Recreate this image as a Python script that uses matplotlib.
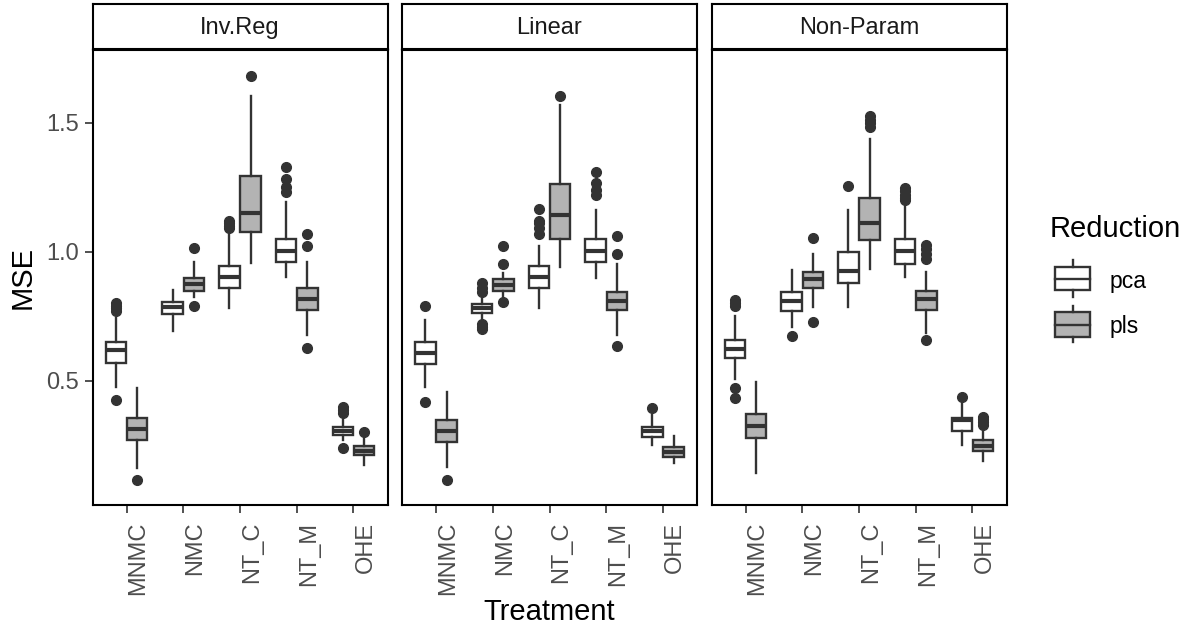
import matplotlib
matplotlib.use("Agg")
import matplotlib.pyplot as plt
import matplotlib.transforms as mtransforms
from matplotlib.patches import Rectangle

# ---------------- data ----------------
methods = ["Inv.Reg", "Linear", "Non-Param"]
treatments = ["MNMC", "NMC", "NT_C", "NT_M", "OHE"]
reductions = ["pca", "pls"]

# each list: [method][treatment]
pca_q1 = [[0.570, 0.757, 0.858, 0.961, 0.289],
          [0.563, 0.764, 0.858, 0.961, 0.283],
          [0.587, 0.771, 0.880, 0.952, 0.306]]
pca_med = [[0.617, 0.784, 0.902, 1.004, 0.306],
           [0.606, 0.781, 0.903, 1.004, 0.305],
           [0.622, 0.809, 0.926, 1.004, 0.348]]
pca_q3 = [[0.649, 0.804, 0.945, 1.050, 0.322],
          [0.649, 0.797, 0.945, 1.050, 0.322],
          [0.658, 0.843, 0.999, 1.050, 0.354]]
pca_lo = [[0.477, 0.694, 0.781, 0.903, 0.270],
          [0.477, 0.735, 0.781, 0.897, 0.251],
          [0.505, 0.709, 0.787, 0.903, 0.251]]
pca_hi = [[0.744, 0.852, 1.071, 1.194, 0.348],
          [0.735, 0.819, 1.023, 1.162, 0.367],
          [0.751, 0.929, 1.162, 1.178, 0.412]]
pca_out = [[[0.426, 0.77, 0.78, 0.79, 0.80], [], [1.09, 1.10, 1.11, 1.12],
            [1.23, 1.25, 1.28, 1.33], [0.238, 0.375, 0.385, 0.399]],
           [[0.419, 0.791], [0.70, 0.71, 0.72, 0.843, 0.86, 0.878],
            [1.07, 1.09, 1.11, 1.12, 1.164], [1.22, 1.24, 1.265, 1.31], [0.393]],
           [[0.432, 0.471, 0.79, 0.80, 0.813], [0.673], [1.255],
            [1.20, 1.21, 1.22, 1.235, 1.246], [0.438]]]

pls_q1 = [[0.270, 0.849, 1.075, 0.774, 0.212],
          [0.262, 0.849, 1.049, 0.774, 0.205],
          [0.277, 0.858, 1.045, 0.774, 0.229]]
pls_med = [[0.313, 0.876, 1.151, 0.818, 0.229],
           [0.305, 0.871, 1.142, 0.809, 0.225],
           [0.326, 0.894, 1.112, 0.816, 0.248]]
pls_q3 = [[0.354, 0.898, 1.293, 0.858, 0.247],
          [0.348, 0.893, 1.262, 0.843, 0.243],
          [0.370, 0.920, 1.207, 0.849, 0.270]]
pls_lo = [[0.160, 0.826, 0.957, 0.677, 0.173],
          [0.167, 0.826, 0.942, 0.677, 0.182],
          [0.141, 0.787, 0.933, 0.686, 0.190]]
pls_hi = [[0.471, 0.961, 1.603, 0.961, 0.277],
          [0.457, 0.916, 1.567, 0.952, 0.285],
          [0.496, 0.991, 1.436, 0.920, 0.322]]
pls_out = [[[0.115], [0.79, 1.014], [1.681], [0.626, 1.022, 1.069], [0.302]],
           [[0.115], [0.804, 0.952, 1.023], [1.603], [0.635, 0.99, 1.061], []],
           [[], [0.726, 1.053], [1.484, 1.50, 1.51, 1.526],
            [0.658, 0.97, 0.99, 1.01, 1.026], [0.33, 0.34, 0.35, 0.36]]]

yticks = [0.5, 1.0, 1.5]
fill_colors = {"pca": "#FFFFFF", "pls": "#B3B3B3"}

# ---------------- style ----------------
plt.rcParams["font.family"] = ["Liberation Sans", "DejaVu Sans"]
W, H = 1187, 634
fig = plt.figure(figsize=(W / 100, H / 100), dpi=100)
fig.patch.set_facecolor("white")

EDGE = "#333333"
TICKC = "#4D4D4D"

def fx(px):
    return px / W

def fy(py):
    return 1 - py / H

panel_left = [92.5, 402.0, 711.5]
panel_w = 295.0
panel_top, panel_bot = 50.0, 505.0
strip_top, strip_bot = 4.0, 48.5

stats_src = {
    "pca": (pca_q1, pca_med, pca_q3, pca_lo, pca_hi, pca_out),
    "pls": (pls_q1, pls_med, pls_q3, pls_lo, pls_hi, pls_out),
}
offsets = {"pca": -0.1875, "pls": 0.1875}

for m, mname in enumerate(methods):
    L = panel_left[m]
    ax = fig.add_axes([fx(L), fy(panel_bot), panel_w / W, (panel_bot - panel_top) / H])
    for red in reductions:
        q1, med, q3, lo, hi, out = stats_src[red]
        stats = []
        for t in range(len(treatments)):
            stats.append(dict(q1=q1[m][t], med=med[m][t], q3=q3[m][t],
                              whislo=lo[m][t], whishi=hi[m][t],
                              fliers=out[m][t]))
        pos = [t + 1 + offsets[red] for t in range(len(treatments))]
        ax.bxp(stats, positions=pos, widths=0.36, patch_artist=True,
               showcaps=False, manage_ticks=False,
               boxprops=dict(facecolor=fill_colors[red], edgecolor=EDGE, linewidth=1.7),
               medianprops=dict(color=EDGE, linewidth=3.0, solid_capstyle="butt"),
               whiskerprops=dict(color=EDGE, linewidth=1.7),
               flierprops=dict(marker="o", markerfacecolor=EDGE, markeredgecolor=EDGE,
                               markersize=7, linestyle="none"))
    ax.set_xlim(0.4, 5.6)
    ax.set_ylim(0.018, 1.782)
    ax.set_xticks(range(1, len(treatments) + 1))
    ax.set_xticklabels(treatments, rotation=90, fontsize=17, color=TICKC)
    ax.tick_params(axis="x", length=6, width=1.2, color=EDGE, pad=6)
    offset = mtransforms.ScaledTranslation(12 / 100, 0, fig.dpi_scale_trans)
    for lab in ax.get_xticklabels():
        lab.set_transform(lab.get_transform() + offset)
    if m == 0:
        ax.set_yticks(yticks)
        ax.set_yticklabels([f"{v:.1f}" for v in yticks], fontsize=17, color=TICKC)
        ax.tick_params(axis="y", length=6, width=1.2, color=EDGE, pad=4)
    else:
        ax.set_yticks([])
    for s in ax.spines.values():
        s.set_color("black")
        s.set_linewidth(1.5)
    ax.set_facecolor("white")

    # strip
    sax = fig.add_axes([fx(L), fy(strip_bot), panel_w / W, (strip_bot - strip_top) / H])
    sax.set_xticks([])
    sax.set_yticks([])
    sax.set_facecolor("white")
    for s in sax.spines.values():
        s.set_color("black")
        s.set_linewidth(1.5)
    sax.text(0.5, 0.47, mname, ha="center", va="center", fontsize=17,
             color="#1A1A1A", transform=sax.transAxes)

# axis titles
fig.text(fx(23), fy(277.5), "MSE", rotation=90, ha="center", va="center",
         fontsize=21, color="black")
fig.text(fx(549.5), fy(612), "Treatment", ha="center", va="center",
         fontsize=21, color="black")

# legend (drawn manually in pixel coordinates)
lax = fig.add_axes([0, 0, 1, 1], facecolor="none")
lax.set_xlim(0, W)
lax.set_ylim(H, 0)
lax.axis("off")
lax.text(1050, 229, "Reduction", ha="left", va="center", fontsize=21, color="black")
key_specs = [("pca", 260, 267, 279, 290, 297, 281.5),
             ("pls", 306, 312, 324.5, 337, 342, 326.5)]
for red, wt, bt, md, bb, wb, ty in key_specs:
    lax.add_patch(Rectangle((1055, bt), 35, bb - bt, facecolor=fill_colors[red],
                            edgecolor=EDGE, linewidth=1.7))
    lax.plot([1055, 1090], [md, md], color=EDGE, linewidth=1.7)
    lax.plot([1072.5, 1072.5], [wt, bt], color=EDGE, linewidth=1.7)
    lax.plot([1072.5, 1072.5], [bb, wb], color=EDGE, linewidth=1.7)
    lax.text(1110, ty, red, ha="left", va="center", fontsize=16.5, color="black")

fig.savefig("out.png", dpi=100, facecolor="white")
